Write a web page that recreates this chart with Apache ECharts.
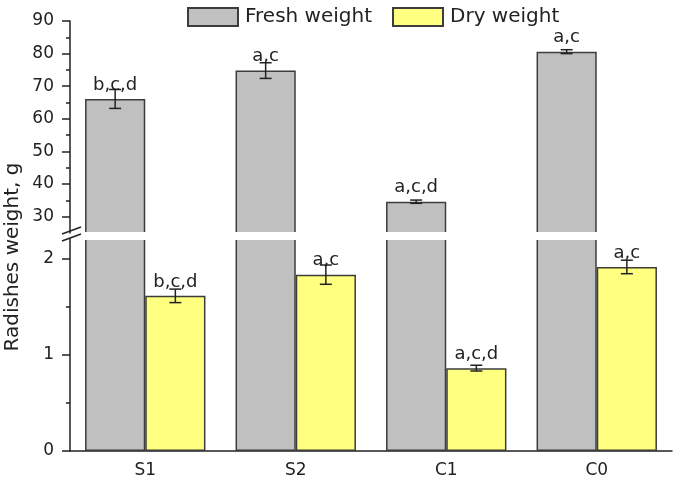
<!DOCTYPE html>
<html>
<head>
<meta charset="utf-8">
<script src="https://cdn.jsdelivr.net/npm/echarts@6/dist/echarts.min.js"></script>
<style>
  html, body { margin: 0; padding: 0; background: #fff; }
  #chart { width: 674px; height: 484px; }
</style>
</head>
<body>
<div id="chart"></div>
<script>
const categories = ['S1', 'S2', 'C1', 'C0']
const fresh = [66.1, 74.8, 34.6, 80.6]
const freshErr = [2.9, 2.4, 0.5, 0.6]
const dry = [1.61, 1.83, 0.86, 1.91]
const dryErr = [0.07, 0.10, 0.03, 0.07]
const freshTags = ['b,c,d', 'a,c', 'a,c,d', 'a,c']
const dryTags = ['b,c,d', 'a,c', 'a,c,d', 'a,c']
const upperTicks = [30, 40, 50, 60, 70, 80, 90]
const upperMinor = [35, 45, 55, 65, 75, 85]
const lowerTicks = [0, 1, 2]
const lowerMinor = [0.5, 1.5]

const font = 'DejaVu Sans'
const ink = '#222'
const border = { borderColor: '#3c3c3c', borderWidth: 1.5 }

// error bar drawn next to the bar centre, side -1 = left bar, +1 = right bar
const errorBars = (side) => (params, api) => {
  const i = api.value(0)
  const band = api.size([1, 0])[0]
  const lo = api.coord([i, api.value(1)])
  const hi = api.coord([i, api.value(2)])
  const x = lo[0] + side * band * 0.2
  const st = { stroke: ink, lineWidth: 1.5 }
  return {
    type: 'group',
    children: [
      { type: 'line', shape: { x1: x, y1: lo[1], x2: x, y2: hi[1] }, style: st },
      { type: 'line', shape: { x1: x - 6, y1: lo[1], x2: x + 6, y2: lo[1] }, style: st },
      { type: 'line', shape: { x1: x - 6, y1: hi[1], x2: x + 6, y2: hi[1] }, style: st }
    ]
  }
}

const tagLabel = (tags) => ({
  show: true,
  position: 'top',
  distance: 5,
  fontFamily: font,
  fontSize: 18,
  color: ink,
  formatter: (p) => tags[p.dataIndex]
})

const option = {
  animation: false,
  textStyle: { fontFamily: font },
  legend: {
    data: ['Fresh weight', 'Dry weight'],
    left: 182,
    top: 2,
    icon: 'rect',
    itemWidth: 50,
    itemHeight: 18,
    itemGap: 20,
    textStyle: { fontFamily: font, fontSize: 20, color: ink, padding: [0, 0, 0, 2] }
  },
  grid: [
    { left: 70, right: 2, top: 21, height: 212 },
    { left: 70, right: 2, top: 239, height: 212 }
  ],
  xAxis: [
    { type: 'category', gridIndex: 0, data: categories, show: false },
    {
      type: 'category', gridIndex: 1, data: categories, position: 'bottom',
      axisLine: { lineStyle: { color: ink, width: 1.5 } },
      axisTick: { alignWithLabel: true, length: 8, lineStyle: { color: ink, width: 1.5 } },
      axisLabel: { fontFamily: font, fontSize: 17, color: ink, margin: 11 }
    },
    {
      type: 'category', gridIndex: 1, data: categories, position: 'bottom',
      axisLine: { show: false },
      axisTick: { length: 4, lineStyle: { color: ink, width: 1.5 } },
      axisLabel: { show: false }
    }
  ],
  yAxis: [
    {
      type: 'value', gridIndex: 0, min: 25, max: 90, position: 'left',
      axisLine: { show: true, lineStyle: { color: ink, width: 1.5 } },
      axisTick: { show: true, length: 8, customValues: upperTicks, lineStyle: { color: ink, width: 1.5 } },
      axisLabel: { customValues: upperTicks, fontFamily: font, fontSize: 17, color: ink, margin: 16 },
      splitLine: { show: false }
    },
    {
      type: 'value', gridIndex: 0, min: 25, max: 90, position: 'left',
      axisLine: { show: false },
      axisTick: { show: true, length: 4, customValues: upperMinor, lineStyle: { color: ink, width: 1.5 } },
      axisLabel: { show: false },
      splitLine: { show: false }
    },
    {
      type: 'value', gridIndex: 1, min: 0, max: 2.2, position: 'left',
      axisLine: { show: true, lineStyle: { color: ink, width: 1.5 } },
      axisTick: { show: true, length: 8, customValues: lowerTicks, lineStyle: { color: ink, width: 1.5 } },
      axisLabel: { customValues: lowerTicks, fontFamily: font, fontSize: 17, color: ink, margin: 16 },
      splitLine: { show: false }
    },
    {
      type: 'value', gridIndex: 1, min: 0, max: 2.2, position: 'left',
      axisLine: { show: false },
      axisTick: { show: true, length: 4, customValues: lowerMinor, lineStyle: { color: ink, width: 1.5 } },
      axisLabel: { show: false },
      splitLine: { show: false }
    }
  ],
  series: [
    {
      name: 'Fresh weight', type: 'bar', xAxisIndex: 0, yAxisIndex: 0, data: fresh,
      barGap: '0%', barCategoryGap: '20%',
      itemStyle: { color: '#c0c0c0', ...border }, label: tagLabel(freshTags)
    },
    {
      name: 'Dry weight', type: 'bar', xAxisIndex: 0, yAxisIndex: 0, data: dry.map(() => '-'),
      barGap: '0%', barCategoryGap: '20%',
      itemStyle: { color: '#ffff80', ...border }
    },
    {
      name: 'Fresh weight', type: 'bar', xAxisIndex: 1, yAxisIndex: 2, data: fresh,
      barGap: '0%', barCategoryGap: '20%',
      itemStyle: { color: '#c0c0c0', ...border }
    },
    {
      name: 'Dry weight', type: 'bar', xAxisIndex: 1, yAxisIndex: 2, data: dry,
      barGap: '0%', barCategoryGap: '20%',
      itemStyle: { color: '#ffff80', ...border }, label: tagLabel(dryTags)
    },
    {
      type: 'custom', xAxisIndex: 0, yAxisIndex: 0, z: 3,
      renderItem: errorBars(-1),
      encode: { x: 0, y: [1, 2] },
      data: fresh.map((v, i) => [i, v - freshErr[i], v + freshErr[i]])
    },
    {
      type: 'custom', xAxisIndex: 1, yAxisIndex: 2, z: 3,
      renderItem: errorBars(1),
      encode: { x: 0, y: [1, 2] },
      data: dry.map((v, i) => [i, v - dryErr[i], v + dryErr[i]])
    }
  ],
  graphic: [
    // white band of the axis break
    { type: 'rect', z: 100, shape: { x: 73, y: 232, width: 600, height: 8 }, style: { fill: '#fff' } },
    { type: 'line', z: 100, shape: { x1: 62, y1: 234, x2: 81, y2: 227 }, style: { stroke: ink, lineWidth: 1.5 } },
    { type: 'line', z: 100, shape: { x1: 62, y1: 241, x2: 81, y2: 234 }, style: { stroke: ink, lineWidth: 1.5 } },
    {
      type: 'text', z: 100, x: 13, y: 257, rotation: Math.PI / 2,
      style: {
        text: 'Radishes weight, g', fontFamily: font, fontSize: 20, fill: ink,
        textAlign: 'center', textVerticalAlign: 'middle', align: 'center', verticalAlign: 'middle'
      }
    }
  ]
}

const chart = echarts.init(document.getElementById('chart'))
chart.setOption(option)
</script>
</body>
</html>
